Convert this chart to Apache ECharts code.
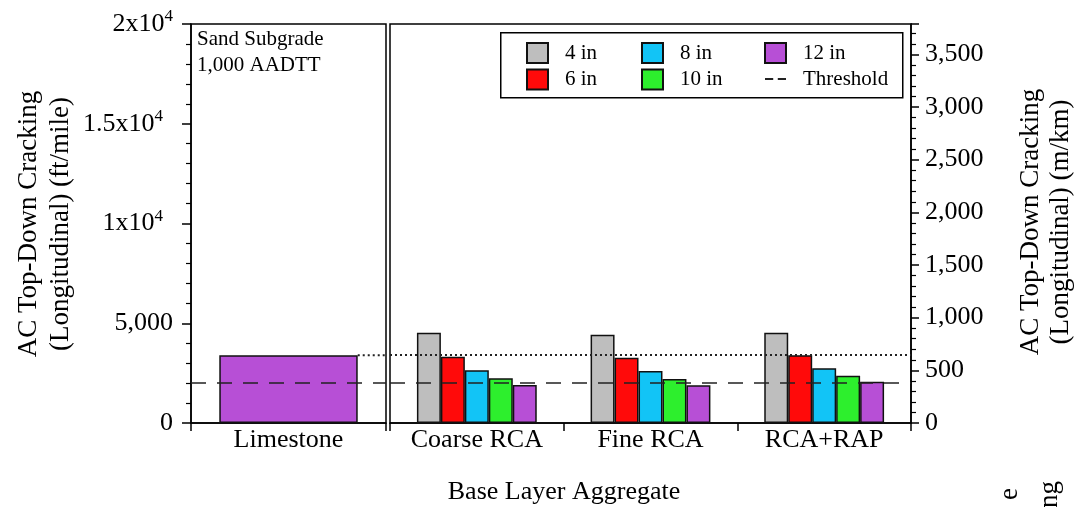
<!DOCTYPE html>
<html>
<head>
<meta charset="utf-8">
<script src="https://cdn.jsdelivr.net/npm/echarts@6/dist/echarts.min.js"></script>
<style>
  html, body { margin: 0; padding: 0; background: #fff; }
  #chart { width: 1075px; height: 507px; }
</style>
</head>
<body>
<div id="chart"></div>
<script>
// Base aggregate categories for the two panels
const leftCategories = ['Limestone'];
const rightCategories = ['Coarse RCA', 'Fine RCA', 'RCA+RAP'];

// Base layer thicknesses (legend names)
const thicknessNames = ['4 in', '6 in', '8 in', '10 in', '12 in'];

// Top-down longitudinal cracking, ft/mile
const limestone12in = [3400];
const values4in = [4520, 4420, 4520];
const values6in = [3320, 3270, 3400];
const values8in = [2640, 2610, 2740];
const values10in = [2240, 2200, 2370];
const values12in = [1900, 1890, 2070];

// Design threshold, ft/mile
const thresholdValue = 2000;

// Left axis tick values, ft/mile
const leftTicks = [0, 5000, 10000, 15000, 20000];

const FONT = 'Liberation Serif';
const FT_MILE_TO_M_KM = 0.3048 / 1.609344;
const colors = ['#bebebe', '#ff0a0a', '#12c4f6', '#2def2d', '#b74fd6'];
const leftMax = leftTicks[leftTicks.length - 1];
const refLevel = limestone12in[0];
const LIMESTONE_GAP = 0.29;   // category gap of the single limestone bar

const seriesDataRight = [values4in, values6in, values8in, values10in, values12in];

function leftLabel(v) {
  if (v === 0) return '0';
  if (v < 10000) return v.toLocaleString('en-US');
  const m = v / 10000;
  const key = v === leftMax ? 's2' : 's';
  return '{a|' + m + 'x10}{' + key + '|4}';
}

const barBorder = { borderColor: '#111', borderWidth: 1.5 };

const series = [];
// Limestone (12 in) bar in the left panel
series.push({
  type: 'bar', name: '12 in', xAxisIndex: 0, yAxisIndex: 0,
  data: limestone12in, barCategoryGap: (LIMESTONE_GAP * 100) + '%', z: 3,
  itemStyle: Object.assign({ color: colors[4] }, barBorder)
});
// Thickness bars in the right panel
thicknessNames.forEach((name, i) => {
  series.push({
    type: 'bar', name: name, xAxisIndex: 1, yAxisIndex: 1,
    data: seriesDataRight[i], barGap: '0%', barCategoryGap: '31%', z: 3,
    itemStyle: Object.assign({ color: colors[i] }, barBorder)
  });
});

const dashStyle = { color: '#222', width: 1.5, type: [15, 11] };
const dotStyle = { color: '#222', width: 2, type: [2, 3] };
const quietMark = { silent: true, symbol: 'none', label: { show: false }, emphasis: { disabled: true } };

// Threshold line across both panels
series.push({
  type: 'line', name: 'Threshold', xAxisIndex: 1, yAxisIndex: 1, data: [],
  symbol: 'none', itemStyle: { color: '#222' }, lineStyle: dashStyle, z: 6,
  markLine: Object.assign({ lineStyle: dashStyle, data: [{ yAxis: thresholdValue }] }, quietMark)
});
series.push({
  type: 'line', name: 'Threshold', xAxisIndex: 0, yAxisIndex: 0, data: [],
  symbol: 'none', itemStyle: { color: '#222' }, lineStyle: dashStyle, z: 6,
  markLine: Object.assign({ lineStyle: dashStyle, data: [{ yAxis: thresholdValue }] }, quietMark)
});
// Limestone reference level: from the right edge of the limestone bar and across the right panel
const refStart = 1 - LIMESTONE_GAP / 2;
series.push({
  type: 'line', name: 'ref-left', xAxisIndex: 2, yAxisIndex: 0,
  data: [[refStart, refLevel], [1, refLevel]], symbol: 'none', z: 1,
  lineStyle: dotStyle, silent: true
});
series.push({
  type: 'line', name: 'ref-right', xAxisIndex: 1, yAxisIndex: 1, data: [],
  symbol: 'none', z: 6,
  markLine: Object.assign({ lineStyle: dotStyle, data: [{ yAxis: refLevel }] }, quietMark)
});

const axisLineStyle = { show: true, lineStyle: { color: '#000', width: 1.5 } };
const catLabel = { fontFamily: FONT, fontSize: 26, color: '#000', margin: 4 };

const legendCommon = {
  orient: 'vertical', itemWidth: 21, itemHeight: 20, itemGap: 4.5, padding: 0,
  selectedMode: false,
  textStyle: { fontFamily: FONT, fontSize: 21, color: '#000', padding: [0, 0, 0, 12] }
};
// Two short dashes for the threshold legend key
const dashIcon = 'path://M0,0H9V2H0Z M14,0H23V2H14Z';

const option = {
  animation: false,
  backgroundColor: '#fff',
  grid: [
    { left: 191, top: 24, width: 195, bottom: 84, show: true, borderColor: '#000', borderWidth: 1.5 },
    { left: 390, top: 24, right: 164, bottom: 84, show: true, borderColor: '#000', borderWidth: 1.5 }
  ],
  xAxis: [
    { type: 'category', gridIndex: 0, data: leftCategories, axisLine: axisLineStyle,
      axisTick: { show: true, length: 8, lineStyle: { color: '#000', width: 1.5 } }, axisLabel: catLabel },
    { type: 'category', gridIndex: 1, data: rightCategories, axisLine: axisLineStyle,
      axisTick: { show: true, length: 8, lineStyle: { color: '#000', width: 1.5 } }, axisLabel: catLabel },
    { type: 'value', gridIndex: 0, min: 0, max: 1, show: false }
  ],
  yAxis: [
    { type: 'value', gridIndex: 0, position: 'left', min: 0, max: leftMax, interval: 5000,
      axisLine: axisLineStyle, splitLine: { show: false },
      axisTick: { show: true, length: 9, lineStyle: { color: '#000', width: 1.5 } },
      minorTick: { show: true, splitNumber: 5, length: 5, lineStyle: { color: '#000', width: 1.2 } },
      axisLabel: {
        margin: 18, color: '#000', fontFamily: FONT, fontSize: 26, formatter: leftLabel,
        rich: {
          a: { fontFamily: FONT, fontSize: 26, color: '#000' },
          s: { fontFamily: FONT, fontSize: 17, color: '#000', padding: [0, 10, 14, 0] },
          s2: { fontFamily: FONT, fontSize: 17, color: '#000', padding: [0, 0, 14, 0] }
        }
      }
    },
    { type: 'value', gridIndex: 1, min: 0, max: leftMax, show: false, splitLine: { show: false } },
    { type: 'value', gridIndex: 1, position: 'right', min: 0, max: leftMax * FT_MILE_TO_M_KM, interval: 500,
      axisLine: axisLineStyle, splitLine: { show: false },
      axisTick: { show: true, length: 8, lineStyle: { color: '#000', width: 1.5 } },
      minorTick: { show: true, splitNumber: 5, length: 5, lineStyle: { color: '#000', width: 1.2 } },
      axisLabel: {
        margin: 14, color: '#000', fontFamily: FONT, fontSize: 26, showMaxLabel: false,
        formatter: v => (Math.abs(v % 500) < 1e-6 ? v.toLocaleString('en-US') : '')
      }
    }
  ],
  legend: [
    Object.assign({ left: 526, top: 42, data: [{ name: '4 in', icon: 'rect' }, { name: '6 in', icon: 'rect' }] }, legendCommon),
    Object.assign({ left: 641, top: 42, data: [{ name: '8 in', icon: 'rect' }, { name: '10 in', icon: 'rect' }] }, legendCommon),
    Object.assign({ left: 764, top: 42, data: [{ name: '12 in', icon: 'rect' }, { name: 'Threshold', icon: dashIcon }] }, legendCommon)
  ],
  graphic: [
    { type: 'rect', left: 500, top: 32, shape: { width: 402, height: 65 },
      style: { fill: '#fff', stroke: '#000', lineWidth: 1.5 }, z: 50, silent: true },
    { type: 'text', left: 197, top: 26, z: 60, silent: true,
      style: { text: 'Sand Subgrade\n1,000 AADTT', font: '21px "Liberation Serif"', fill: '#000', lineHeight: 26 } },
    { type: 'text', x: 45, y: 224, rotation: Math.PI / 2, silent: true,
      style: { text: 'AC Top-Down Cracking\n(Longitudinal) (ft/mile)', font: '27px "Liberation Serif"',
        fill: '#000', align: 'center', verticalAlign: 'middle', lineHeight: 32 } },
    { type: 'text', x: 1046, y: 222, rotation: Math.PI / 2, silent: true,
      style: { text: 'AC Top-Down Cracking\n(Longitudinal) (m/km)', font: '27px "Liberation Serif"',
        fill: '#000', align: 'center', verticalAlign: 'middle', lineHeight: 30 } },
    { type: 'text', x: 564, y: 492, silent: true,
      style: { text: 'Base Layer Aggregate', font: '26px "Liberation Serif"', fill: '#000',
        align: 'center', verticalAlign: 'middle' } },
    { type: 'text', x: 1010, y: 500, rotation: Math.PI / 2, silent: true,
      style: { text: 'e', font: '27px "Liberation Serif"', fill: '#000', align: 'left', verticalAlign: 'middle' } },
    { type: 'text', x: 1050, y: 508, rotation: Math.PI / 2, silent: true,
      style: { text: 'ng', font: '27px "Liberation Serif"', fill: '#000', align: 'left', verticalAlign: 'middle' } }
  ],
  series: series
};

// Legend components sit above the framed legend box
option.legend.forEach(l => { l.z = 55; });

const chart = echarts.init(document.getElementById('chart'), null, { renderer: 'canvas' });
chart.setOption(option);
</script>
</body>
</html>
